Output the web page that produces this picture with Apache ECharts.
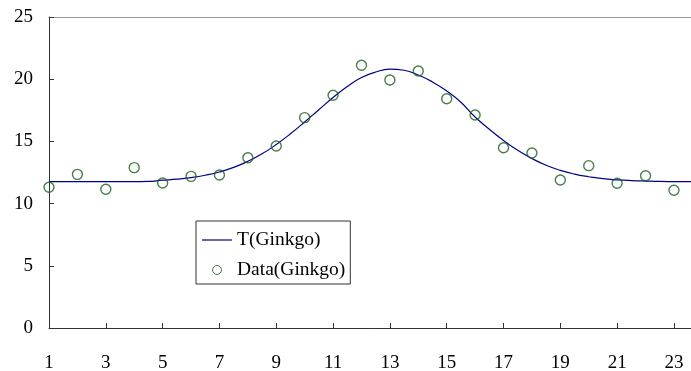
<!DOCTYPE html>
<html>
<head>
<meta charset="utf-8">
<script src="https://cdn.jsdelivr.net/npm/echarts@6/dist/echarts.min.js"></script>
<style>
html,body{margin:0;padding:0;background:#fff;}
#c{width:691px;height:371px;}
</style>
</head>
<body>
<div id="c"></div>
<script>
// Observed data (x = 1..23)
const dataX = [1,2,3,4,5,6,7,8,9,10,11,12,13,14,15,16,17,18,19,20,21,22,23];
const dataGinkgo = [11.31,12.35,11.15,12.89,11.66,12.19,12.30,13.69,14.63,16.91,18.71,21.12,19.94,20.66,18.43,17.12,14.49,14.07,11.90,13.05,11.63,12.24,11.07];
// Fitted curve T(Ginkgo)
const curveX = [1,1.5,2,2.5,3,3.5,4,4.5,5,5.5,6,6.5,7,7.5,8,8.5,9,9.5,10,10.5,11,11.5,12,12.5,13,13.5,14,14.5,15,15.5,16,16.5,17,17.5,18,18.5,19,19.5,20,20.5,21,21.5,22,22.5,23,23.6];
const curveT = [11.76,11.76,11.76,11.76,11.76,11.76,11.76,11.78,11.88,11.96,12.09,12.28,12.54,12.91,13.40,14.00,14.75,15.61,16.56,17.55,18.53,19.41,20.13,20.58,20.81,20.72,20.34,19.78,19.05,18.15,16.96,15.98,15.08,14.28,13.62,13.08,12.67,12.37,12.16,12.00,11.91,11.85,11.81,11.78,11.77,11.76];
const yTicks = [0,5,10,15,20,25];
const xMinLabel = 1, xMaxValue = 23.6;

const FONT = 'Liberation Serif';
const LINE_COLOR = '#000088';
const DOT_COLOR = '#1b5e20';

const chart = echarts.init(document.getElementById('c'), null, {renderer:'canvas'});
const shift = v => v - xMinLabel;
chart.setOption({
  animation:false,
  backgroundColor:'#fff',
  grid:{left:49,right:0,top:17,bottom:43,containLabel:false,outerBoundsMode:'none'},
  legend:{
    orient:'vertical',
    left:196, top:221,
    borderColor:'#333', borderWidth:1,
    padding:[9,5,4,6],
    itemGap:10, itemWidth:30, itemHeight:9,
    textStyle:{fontFamily:FONT,fontSize:19.5,color:'#000'},
    data:[
      {name:'T(Ginkgo)', icon:'path://M0,0L30,0L30,1.2L0,1.2Z'},
      {name:'Data(Ginkgo)', itemStyle:{color:'rgba(255,255,255,0)',borderColor:DOT_COLOR,borderWidth:1}}
    ]
  },
  xAxis:[{
    type:'value',
    min:0, max:shift(xMaxValue), interval:2,
    axisLine:{show:true,lineStyle:{color:'#333',width:1}},
    axisTick:{show:true,inside:true,length:5,lineStyle:{color:'#333'}},
    axisLabel:{margin:26,fontFamily:FONT,fontSize:19,color:'#000',
      formatter:v=>Number.isInteger(v)?String(v+xMinLabel):''},
    splitLine:{show:false}
  },{
    type:'value', position:'top',
    min:0, max:shift(xMaxValue),
    axisLine:{show:true,onZero:false,lineStyle:{color:'#999',width:1}},
    axisTick:{show:false}, axisLabel:{show:false}, splitLine:{show:false}
  }],
  yAxis:{
    type:'value', min:yTicks[0], max:yTicks[yTicks.length-1], interval:5,
    axisLine:{show:true,lineStyle:{color:'#333',width:1}},
    axisTick:{show:true,inside:true,length:5,lineStyle:{color:'#333'}},
    axisLabel:{margin:16,fontFamily:FONT,fontSize:19,color:'#000',padding:[6,0,0,0]},
    splitLine:{show:false}
  },
  series:[{
    name:'T(Ginkgo)', type:'line', smooth:true, symbol:'none',
    lineStyle:{color:LINE_COLOR,width:1.2}, itemStyle:{color:LINE_COLOR},
    data:curveX.map((x,i)=>[shift(x),curveT[i]]), z:2
  },{
    name:'Data(Ginkgo)', type:'scatter', symbol:'circle', symbolSize:10,
    itemStyle:{color:'rgba(255,255,255,0)',borderColor:DOT_COLOR,borderWidth:1.4},
    data:dataX.map((x,i)=>[shift(x),dataGinkgo[i]]), z:3
  }]
});
</script>
</body>
</html>
